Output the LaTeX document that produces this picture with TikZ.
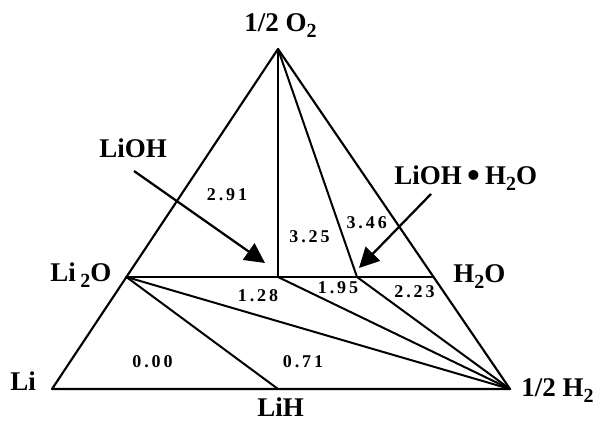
\documentclass[tikz,border=0pt]{standalone}
\usepackage{fontspec}
\usepackage{graphicx}
\setmainfont{Liberation Serif}
\newfontfamily\numfont[LetterSpace=16]{Liberation Serif}
\usetikzlibrary{arrows.meta}
\newcommand\chsub[1]{\raisebox{-0.22em}{\fontsize{15pt}{15pt}\selectfont #1}}
\newcommand\bigdot{\raisebox{-0.1em}{\scalebox{1.35}{\textbullet}}}
\begin{document}
\begin{tikzpicture}[x=0.75pt,y=-0.75pt,
  lbl/.style={inner sep=0pt, anchor=base west, font=\fontsize{20.25pt}{24pt}\selectfont\bfseries},
  num/.style={inner sep=0pt, font=\numfont\fontsize{13.5pt}{16pt}\selectfont\bfseries},
  edgeline/.style={line width=1.6pt, line join=round, line cap=round},
  tieline/.style={line width=1.5pt, line cap=round},
  hline/.style={line width=1pt},
  pointer/.style={line width=1.7pt, -{Triangle[length=15pt,width=15pt]}}]
\useasboundingbox (0,0) rectangle (597,423);
% phase points
\coordinate (O2) at (278,49);
\coordinate (Li) at (52,389);
\coordinate (H2) at (510,389);
\coordinate (Li2O) at (126.4,277);
\coordinate (H2O) at (433.6,277);
\coordinate (LiH) at (278,389);
\coordinate (LiOH) at (278,277);
\coordinate (LiOHW) at (357,277);
% triangle
\draw[edgeline] (Li) -- (O2) -- (H2) -- cycle;
% tie lines
\draw[hline] (Li2O) -- (H2O);
\draw[tieline] (O2) -- (LiOH);
\draw[tieline] (O2) -- (LiOHW);
\draw[tieline] (Li2O) -- (LiH);
\draw[tieline] (Li2O) -- (H2);
\draw[tieline] (LiOH) -- (H2);
\draw[tieline] (LiOHW) -- (H2);
% labels
\node[lbl] (tO2) at (244,32) {1/2 O\chsub{2}};
\node[lbl] (tLi2O) at (50,281.7) {Li\,\chsub{2}O};
\node[lbl] (tH2O) at (453,282.7) {H\chsub{2}O};
\node[lbl] (tLi) at (10,391) {Li};
\node[lbl] (tLiH) at (257,417) {LiH};
\node[lbl] (tH2) at (521,397) {1/2 H\chsub{2}};
\node[lbl] (tLiOH) at (99,157.7) {LiOH};
\node[lbl] (tLiOHW) at (394,185) {LiOH\hspace{4pt}\bigdot\hspace{4pt}H\chsub{2}O};
% arrows
\coordinate (a1s) at (134,171);
\coordinate (a1e) at (265,263);
\coordinate (a2s) at (431,194);
\coordinate (a2e) at (359,268);
\draw[pointer] (a1s) -- (a1e);
\draw[pointer] (a2s) -- (a2e);
% energies
\node[num] (n291) at (227,195) {2.91};
\node[num] (n325) at (309.5,236.7) {3.25};
\node[num] (n346) at (366.7,222.5) {3.46};
\node[num] (n128) at (258,296) {1.28};
\node[num] (n195) at (338,288) {1.95};
\node[num] (n223) at (414.5,292) {2.23};
\node[num] (n000) at (152.5,361.7) {0.00};
\node[num] (n071) at (303,361.7) {0.71};
\end{tikzpicture}
\end{document}
